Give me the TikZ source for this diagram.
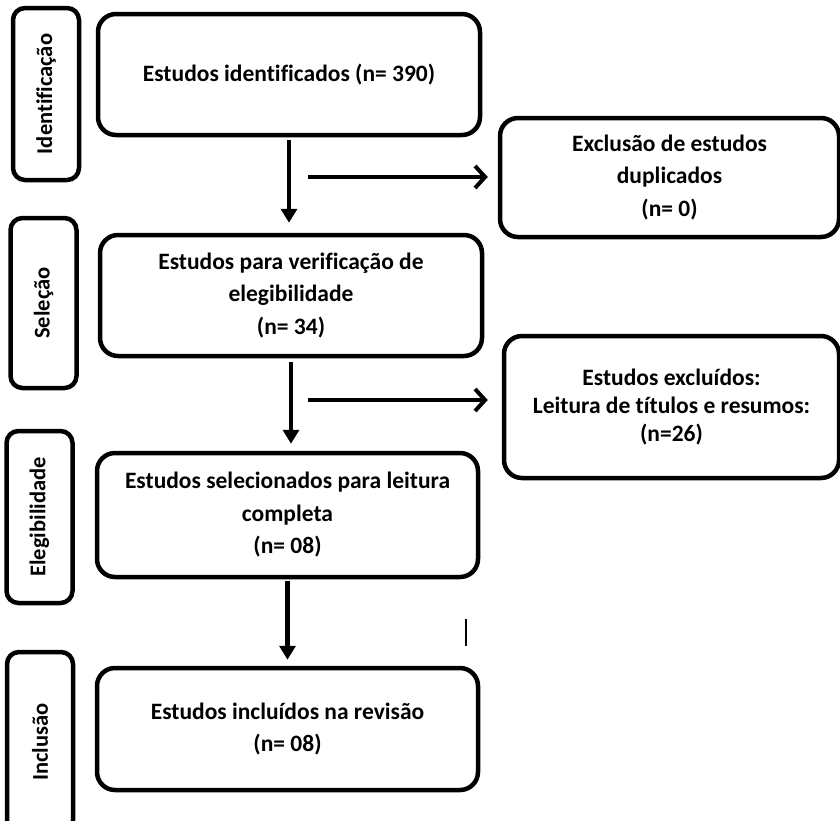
\documentclass[tikz,border=0pt]{standalone}
\usepackage{fontspec}
\setmainfont{Carlito}[Ligatures={NoCommon}]
\usetikzlibrary{arrows.meta}

\tikzset{
    box/.style={draw, line width=4.5pt, rounded corners=18pt, align=center,
        font=\bfseries\fontsize{23.5}{32.5}\selectfont},
    phase/.style={draw, line width=4.5pt, rounded corners=12pt, rotate=90,
        minimum height=66pt, font=\bfseries\fontsize{22.5}{24}\selectfont},
    down/.style={line width=4.5pt, -{Triangle[length=14pt,width=16pt]}},
    across/.style={line width=4.5pt, -{Straight Barb[length=10pt,width=22pt,line width=4pt]}}
}

\begin{document}
\begin{tikzpicture}[x=1pt, y=-1pt]
    \clip (0,0) rectangle (840,820);

    % Phases
    \node[phase, minimum width=172pt] (ident) at (46,94) {Identificação};
    \node[phase, minimum width=170pt] (selec) at (43.5,303) {Seleção};
    \node[phase, minimum width=172pt] (elegi) at (39.5,517) {Elegibilidade};
    \node[phase, minimum width=180pt] (inclu) at (40,742) {Inclusão};

    % Main boxes
    \node[box, minimum width=382pt, minimum height=121pt] (found) at (289,74.5)
        {Estudos identificados (n= 390)};
    \node[box, minimum width=382pt, minimum height=121pt] (check) at (291,295.5)
        {Estudos para verificação de\\ elegibilidade\\ (n= 34)};
    \node[box, minimum width=381pt, minimum height=124pt] (full) at (287.5,515)
        {Estudos selecionados para leitura\\ completa\\ (n= 08)};
    \node[box, minimum width=381pt, minimum height=122pt] (incl) at (287.5,729)
        {Estudos incluídos na revisão\\ (n= 08)};

    % Excluded boxes
    \node[box, minimum width=339pt, minimum height=119pt] (dupl) at (669.5,177.5)
        {Exclusão de estudos\\ duplicados\\ (n= 0)};
    \node[box, minimum width=335pt, minimum height=142pt,
        font=\bfseries\fontsize{23.5}{28}\selectfont] (excl) at (671.5,407)
        {Estudos excluídos:\\ Leitura de títulos e resumos:\\ (n=26)};

    % Flow
    \draw[down, shorten <=3pt, shorten >=10pt] (found.south) -- (found.south |- check.north);
    \draw[down, shorten <=4pt, shorten >=7pt] (check.south) -- (check.south |- full.north);
    \draw[down, shorten <=2pt, shorten >=6pt] (full.south) -- (full.south |- incl.north);

    \coordinate (d1) at (308,177);
    \coordinate (d2) at (308,400);
    \draw[across, shorten >=10pt] (d1) -- (d1 -| dupl.west);
    \draw[across, shorten >=14pt] (d2) -- (d2 -| excl.west);

    % stray mark
    \draw[line width=1.5pt] (466,619) -- (466,646);
\end{tikzpicture}
\end{document}
